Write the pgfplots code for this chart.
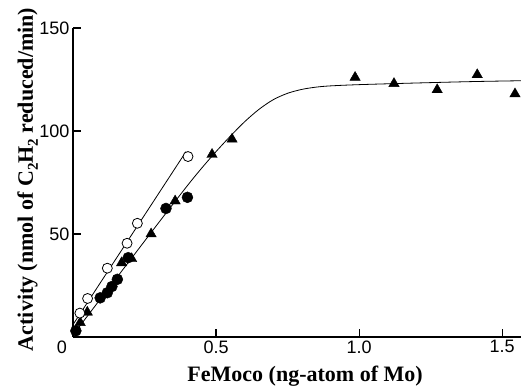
\documentclass[border=0pt]{standalone}
\usepackage{pgfplots}
\pgfplotsset{compat=1.18}
\usepackage{fontspec}
\setmainfont{Liberation Serif}
\newfontfamily\sansfont{Liberation Sans}
\begin{document}
\begin{tikzpicture}
\useasboundingbox (0,0) rectangle (521pt,385pt);
\begin{axis}[
  at={(73pt,48pt)}, anchor=south west,
  scale only axis, width=448pt, height=309pt,
  xmin=0, xmax=1.566, ymin=0, ymax=150,
  axis x line=bottom, axis y line=left,
  axis line style={-, line width=1.6pt},
  tick align=inside, major tick length=8pt,
  tick style={line width=1.1pt, black},
  xtick={0.5,1,1.5}, xticklabels={0.5,1.0,1.5},
  ytick={50,100,150},
  extra x ticks={0}, extra x tick labels={0},
  extra x tick style={major tick length=0pt, xticklabel style={xshift=-11pt}},
  /pgf/number format/assume math mode=true,
  tick label style={font=\sansfont\fontsize{18}{18}\selectfont},
  every axis x label/.style={at={(axis description cs:0.518,0)}, anchor=base, yshift=-44pt},
  every axis y label/.style={at={(axis description cs:-0.0893,0.51)}, rotate=90, anchor=base},
  label style={font=\bfseries\fontsize{22}{22}\selectfont},
  xlabel={FeMoco (ng-atom of Mo)},
  ylabel={Activity (nmol of C\raisebox{-0.22em}{\fontsize{15}{15}\selectfont 2}H\raisebox{-0.22em}{\fontsize{15}{15}\selectfont 2} reduced/min)},
  clip=false,
]
% fitted curve through triangles
\addplot[black, line width=0.8pt, smooth, no marks] coordinates {
 (0.0,1) (0.1,19.2) (0.2,37.4) (0.3,55.6) (0.4,73.5) (0.45,82) (0.5,90)
 (0.55,97.5) (0.6,104.5) (0.65,110.5) (0.7,115.2) (0.75,118.3) (0.8,120.2)
 (0.85,121.3) (0.9,121.9) (1.0,122.5) (1.2,123.3) (1.4,124) (1.566,124.4)};
% line through open circles
\addplot[black, line width=0.8pt, no marks] coordinates {(0.0,6) (0.395,90)};
% triangles
\addplot[only marks, mark=triangle*, mark size=6pt, black] coordinates {
 (0.025,7) (0.05,12) (0.17,36) (0.205,38) (0.273,50) (0.357,66) (0.486,88.6)
 (0.556,96) (0.986,126) (1.122,123) (1.273,120) (1.413,127.3) (1.545,118)};
% open circles
\addplot[only marks, mark=*, mark size=5pt, draw=black, fill=white, line width=0.8pt] coordinates {
 (0.024,11.6) (0.051,18.7) (0.12,33.4) (0.189,45.5) (0.225,55.2) (0.402,87.6)};
% filled circles
\addplot[only marks, mark=*, mark size=5.5pt, black] coordinates {
 (0.01,3) (0.095,19) (0.12,21.5) (0.136,24.5) (0.155,28) (0.193,38.5) (0.325,62.4) (0.40,67.8)};
\end{axis}
\end{tikzpicture}
\end{document}
